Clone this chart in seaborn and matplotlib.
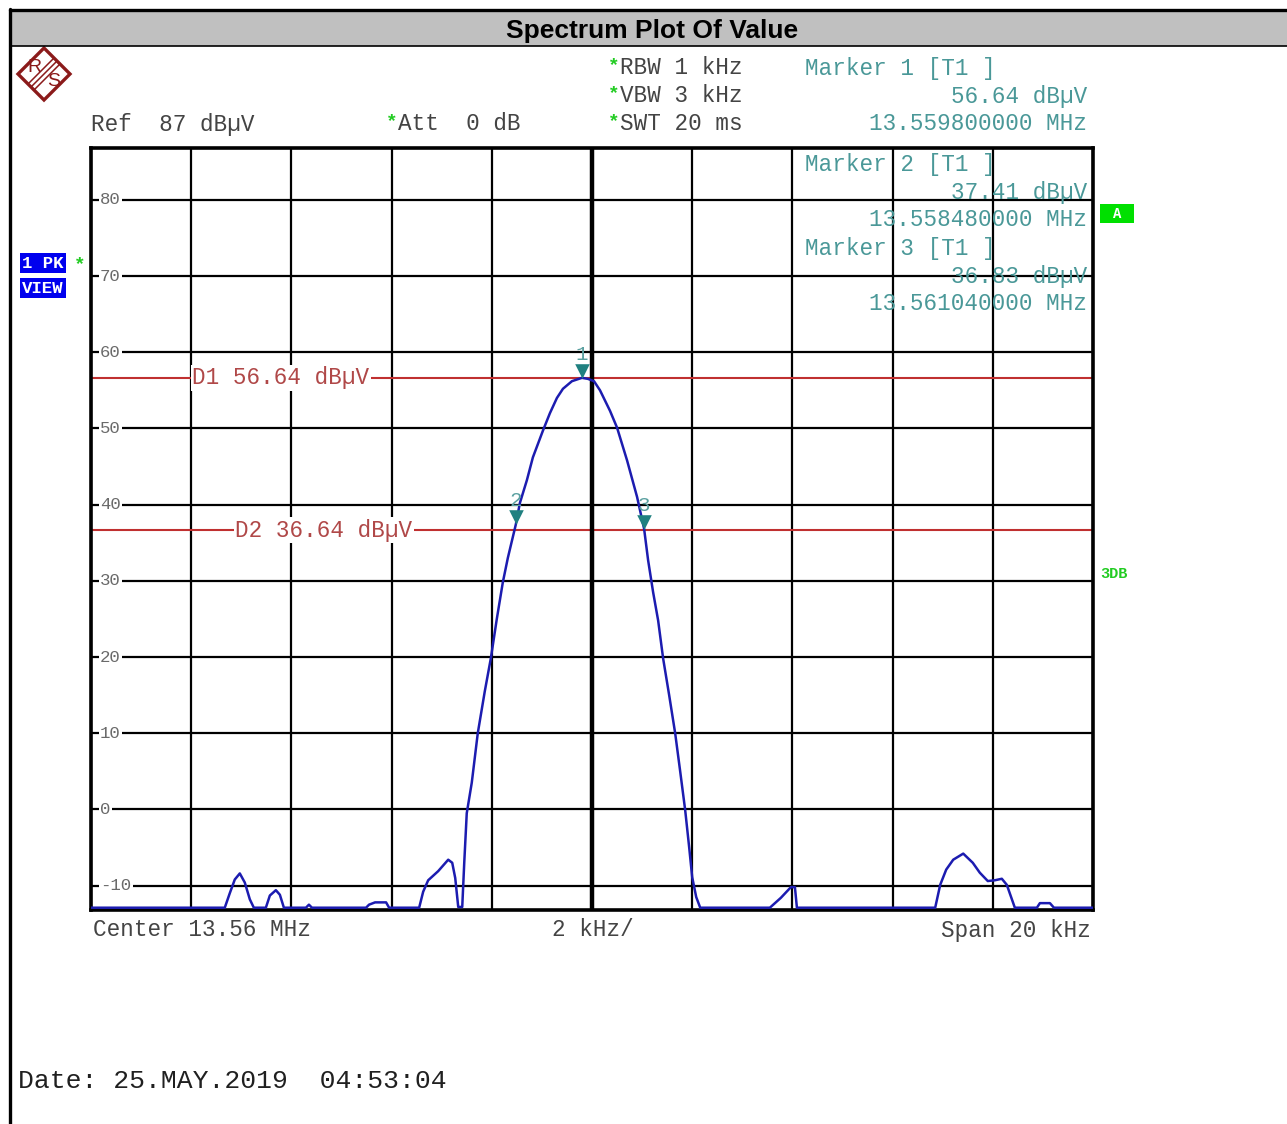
import pandas as pd
import seaborn as sns
import matplotlib.pyplot as plt
from matplotlib.patches import Rectangle, Polygon
from matplotlib.lines import Line2D
import matplotlib.transforms as mtransforms

# trace (offset from 13.56 MHz in kHz, level in dBuV)
freq_khz = [-10.0, -7.33, -7.23, -7.13, -7.03, -6.93, -6.83, -6.75, -6.51, -6.43,
            -6.31, -6.23, -6.15, -5.71, -5.65, -5.59, -4.51, -4.45, -4.33, -4.11,
            -4.05, -3.45, -3.37, -3.27, -3.07, -2.87, -2.79, -2.73, -2.67, -2.59,
            -2.55, -2.50, -2.40, -2.28, -2.14, -2.02, -1.90, -1.78, -1.68, -1.52,
            -1.44, -1.30, -1.18, -0.98, -0.84, -0.70, -0.58, -0.40, -0.20, -0.08,
            0.04, 0.16, 0.36, 0.50, 0.70, 0.90, 1.04, 1.12, 1.22, 1.32,
            1.42, 1.54, 1.66, 1.76, 1.86, 1.94, 2.00, 2.08, 2.16, 3.55,
            3.77, 3.97, 4.05, 4.09, 6.85, 6.95, 7.07, 7.21, 7.41, 7.60,
            7.74, 7.90, 8.04, 8.18, 8.28, 8.44, 8.88, 8.94, 9.14, 9.22, 10.0]
level_dbuv = [-12.9, -12.9, -11.0, -9.2, -8.4, -9.6, -11.8, -12.9, -12.9, -11.3,
              -10.6, -11.2, -12.9, -12.9, -12.5, -12.9, -12.9, -12.5, -12.2, -12.2,
              -12.9, -12.9, -10.8, -9.3, -8.1, -6.6, -7.0, -9.0, -12.8, -12.8,
              -7.0, -0.5, 3.5, 10.0, 15.5, 19.8, 25.0, 29.8, 33.0, 37.41,
              40.2, 43.2, 46.2, 49.7, 52.0, 54.0, 55.2, 56.2, 56.64, 56.5,
              56.2, 55.0, 52.3, 50.1, 45.8, 41.0, 36.83, 32.7, 28.5, 24.8,
              19.8, 15.0, 10.0, 5.0, -0.1, -5.0, -8.9, -11.5, -12.9, -12.9,
              -11.6, -10.2, -10.2, -12.9, -12.9, -9.9, -7.9, -6.6, -5.8, -7.0,
              -8.3, -9.4, -9.3, -9.1, -9.9, -12.9, -12.9, -12.3, -12.3, -12.9, -12.9]

marker_names = ['1', '2', '3']
marker_khz = [-0.20, -1.52, 1.04]
marker_dbuv = [56.64, 37.41, 36.83]
marker_freq_text = ['13.559800000 MHz', '13.558480000 MHz', '13.561040000 MHz']

display_names = ['D1', 'D2']
display_dbuv = [56.64, 36.64]

y_ticks = [80, 70, 60, 50, 40, 30, 20, 10, 0, -10]
x_grid = [-10, -8, -6, -4, -2, 0, 2, 4, 6, 8, 10]

df = pd.DataFrame({'freq': freq_khz, 'level': level_dbuv})

sns.set_style('white')
plt.rcParams['font.family'] = ['Liberation Mono', 'DejaVu Sans Mono']

W, H = 1287, 1124
fig = plt.figure(figsize=(W / 100, H / 100), dpi=100)


def fx(px):
    return px / W


def fy(py):
    return 1 - py / H


ax = fig.add_axes([fx(91), fy(910), fx(1093) - fx(91), fy(148) - fy(910)])

# grid
ax.set_xlim(-10, 10)
ax.set_ylim(-13.2, 86.8)
ax.set_xticks(x_grid)
ax.set_yticks(y_ticks)
ax.set_xticklabels([])
ax.set_yticklabels([])
ax.tick_params(length=0)
ax.grid(True, color='black', linewidth=1.6)
ax.axvline(0, color='black', linewidth=3.2, zorder=1.6)
for s in ax.spines.values():
    s.set_linewidth(2.6)
    s.set_color('black')

for v in y_ticks:
    ax.text(0.009, v, str(v), transform=ax.get_yaxis_transform(), ha='left', va='center',
            fontsize=12.5, color='#6a6a6a', zorder=3,
            bbox=dict(facecolor='white', edgecolor='none', pad=1.0))

mono = 16.3

# display lines
red = '#c03030'
for name, v, xpos in zip(display_names, display_dbuv, [-7.98, -7.12]):
    ax.axhline(v, color=red, linewidth=1.5, zorder=1.0)
    ax.text(xpos, v, f'{name} {v:.2f} dB\u00b5V', ha='left', va='center', fontsize=mono,
            color='#b04848', zorder=1.2,
            bbox=dict(facecolor='white', edgecolor='none', pad=1.0))

# trace
sns.lineplot(data=df, x='freq', y='level', ax=ax, color='#1c1cb0', linewidth=1.8,
             zorder=4, legend=False)
ax.set_xlabel('')
ax.set_ylabel('')

# markers
teal = '#1f8080'
mk_tr = mtransforms.offset_copy(ax.transData, fig=fig, y=5, units='points')
ax.scatter(marker_khz, marker_dbuv, marker='v', s=110, color=teal, zorder=5,
           transform=mk_tr, linewidths=0)
for name, xk, v in zip(marker_names, marker_khz, marker_dbuv):
    ax.annotate(name, (xk, v), xytext=(0, 17), textcoords='offset points', ha='center',
                va='center', fontsize=15, color='#5aa0a0', zorder=5)

# marker readouts
mk_col = '#4a9898'
fig.text(fx(805), fy(68), 'Marker 1 [T1 ]', fontsize=mono, color=mk_col, va='center')
fig.text(fx(1087), fy(96), f'{marker_dbuv[0]:.2f} dB\u00b5V', fontsize=mono, color=mk_col,
         va='center', ha='right')
fig.text(fx(1087), fy(124), marker_freq_text[0], fontsize=mono, color=mk_col,
         va='center', ha='right')
for i, base in zip([1, 2], [164, 248]):
    ax.text(fx(805), fy(base), f'Marker {marker_names[i]} [T1 ]', fontsize=mono, color=mk_col,
            va='center', transform=fig.transFigure, zorder=1.2)
    ax.text(fx(1087), fy(base + 28), f'{marker_dbuv[i]:.2f} dB\u00b5V', fontsize=mono,
            color=mk_col, va='center', ha='right', transform=fig.transFigure, zorder=1.2)
    ax.text(fx(1087), fy(base + 56), marker_freq_text[i], fontsize=mono, color=mk_col,
            va='center', ha='right', transform=fig.transFigure, zorder=1.2)

# header settings
gray_txt = '#444444'
green = '#22cc22'
fig.text(fx(91), fy(124), 'Ref  87 dB\u00b5V', fontsize=mono, color=gray_txt, va='center')
for txt, xp, yp in [('Att  0 dB', 398, 124), ('RBW 1 kHz', 620, 68),
                    ('VBW 3 kHz', 620, 96), ('SWT 20 ms', 620, 124)]:
    fig.text(fx(xp - 12), fy(yp - 2), '*', fontsize=14, color=green, va='center',
             fontweight='bold')
    fig.text(fx(xp), fy(yp), txt, fontsize=mono, color=gray_txt, va='center')

fig.text(fx(93), fy(930), 'Center 13.56 MHz', fontsize=mono, color=gray_txt, va='center')
fig.text(fx(552), fy(930), '2 kHz/', fontsize=mono, color=gray_txt, va='center')
fig.text(fx(1091), fy(930), 'Span 20 kHz', fontsize=mono, color=gray_txt, va='center',
         ha='right')
fig.text(fx(18), fy(1081), 'Date: 25.MAY.2019  04:53:04', fontsize=19, color='#202020',
         va='center')

# side labels
fig.patches.append(Rectangle((fx(1100), fy(223)), fx(1134) - fx(1100), fy(204) - fy(223),
                             transform=fig.transFigure, facecolor='#00e000',
                             edgecolor='none'))
fig.text(fx(1117), fy(213.5), 'A', fontsize=10, color='white', fontweight='bold',
         va='center', ha='center')
fig.text(fx(1100), fy(574), '3DB', fontsize=11, color=green, fontweight='bold', va='center')
fig.text(fx(22), fy(263), '1 PK', fontsize=12.5, color='white', fontweight='bold', va='center',
         bbox=dict(facecolor='#0000ee', edgecolor='none', pad=1.5))
fig.text(fx(22), fy(288), 'VIEW', fontsize=12.5, color='white', fontweight='bold', va='center',
         bbox=dict(facecolor='#0000ee', edgecolor='none', pad=1.5))
fig.text(fx(74), fy(265), '*', fontsize=14, color=green, fontweight='bold', va='center')

# frame and title bar
fig.patches.append(Rectangle((fx(11), fy(46)), 1 - fx(11), fy(11) - fy(46),
                             transform=fig.transFigure, facecolor='#c0c0c0',
                             edgecolor='none'))
fig.lines.append(Line2D([fx(11), 1], [fy(46), fy(46)], transform=fig.transFigure,
                        color='black', linewidth=1.2))
fig.lines.append(Line2D([fx(10), 1], [fy(10), fy(10)], transform=fig.transFigure,
                        color='black', linewidth=2.4))
fig.lines.append(Line2D([fx(10), fx(10)], [fy(9), 0], transform=fig.transFigure,
                        color='black', linewidth=2.4))
fig.text(fx(652), fy(31), 'Spectrum Plot Of Value', fontsize=19, fontweight='bold',
         family='Liberation Sans', color='black', ha='center', va='center')

# R&S logo
logo = '#8b1a1a'
cx, cy, r = 44, 74, 26
fig.patches.append(Polygon([(fx(cx), fy(cy - r)), (fx(cx + r), fy(cy)), (fx(cx), fy(cy + r)),
                            (fx(cx - r), fy(cy))], closed=True, transform=fig.transFigure,
                           facecolor='white', edgecolor=logo, linewidth=2.4))
for d in [-3, 0, 3]:
    fig.lines.append(Line2D([fx(cx - 13 + d), fx(cx + 13 + d)], [fy(cy + 13 + d), fy(cy - 13 + d)],
                            transform=fig.transFigure, color=logo, linewidth=1.1))
fig.text(fx(cx - 10), fy(cy - 7), 'R', fontsize=14, color=logo, ha='center', va='center',
         family='Liberation Sans')
fig.text(fx(cx + 10), fy(cy + 8), 'S', fontsize=14, color=logo, ha='center', va='center',
         family='Liberation Sans')

fig.savefig('out.png', dpi=100, facecolor='white')
